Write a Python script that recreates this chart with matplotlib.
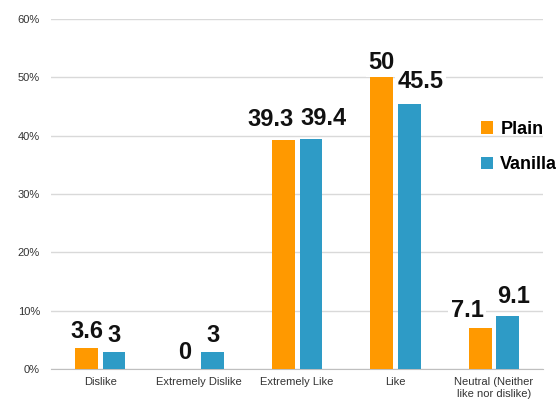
import matplotlib.pyplot as plt
import matplotlib.ticker as mtick
import numpy as np

categorias = ["Dislike", "Extremely Dislike", "Extremely Like", "Like", "Neutral (Neither\nlike nor dislike)"]
plain = [3.6, 0, 39.3, 50, 7.1]
vanilla = [3, 3, 39.4, 45.5, 9.1]
series = ["Plain", "Vanilla"]

colores = ("#FF9900", "#2E9BC6")
# desplazamiento manual de las etiquetas (pixeles), como en el original
desp_plain = [(0, 5), (0, 5), (-13, 9), (0, 3), (-13, 6)]
desp_vanilla = [(0, 5), (0, 5), (13, 9), (11, 11), (6, 8)]

plt.rcParams['font.family'] = ['Liberation Sans', 'DejaVu Sans']

fig = plt.figure(figsize=(5.56, 4.11), dpi=100)
ax = fig.add_axes([0.092, 0.102, 0.885, 0.852])

x = np.arange(len(categorias))
ancho = 0.23
sep = 0.025
b1 = ax.bar(x - ancho/2 - sep, plain, ancho, color=colores[0], label=series[0], zorder=3)
b2 = ax.bar(x + ancho/2 + sep, vanilla, ancho, color=colores[1], label=series[1], zorder=3)

for barras, desp in ((b1, desp_plain), (b2, desp_vanilla)):
    for b, d in zip(barras, desp):
        h = b.get_height()
        ax.annotate("{:g}".format(h), (b.get_x() + b.get_width()/2, h),
                    xytext=d, textcoords="offset pixels",
                    ha="center", va="bottom", fontsize=17, fontweight="bold",
                    color="#111111", zorder=4,
                    bbox=dict(boxstyle="square,pad=0.1", fc="white", ec="none"))

ax.set_ylim(0, 60)
ax.set_xlim(-0.5, len(categorias) - 0.5)
ax.set_yticks(range(0, 61, 10))
ax.yaxis.set_major_formatter(mtick.PercentFormatter(decimals=0))
ax.set_xticks(x)
ax.set_xticklabels(categorias, fontsize=8, color="#333333")
ax.tick_params(axis="y", labelsize=8, length=0, pad=8, labelcolor="#333333")
ax.tick_params(axis="x", length=0, pad=6)
ax.grid(axis="y", color="#D9D9D9", linewidth=1, zorder=0)
for s in ("top", "right", "left"):
    ax.spines[s].set_visible(False)
ax.spines["bottom"].set_color("#BFBFBF")

fig.legend(loc="center left", bbox_to_anchor=(472/556, 1 - 147/411), frameon=False,
           prop={"size": 13, "weight": "bold"}, borderpad=0,
           handlelength=0.67, handleheight=0.67,
           handletextpad=0.4, labelspacing=1.0)

plt.savefig("out.png")
